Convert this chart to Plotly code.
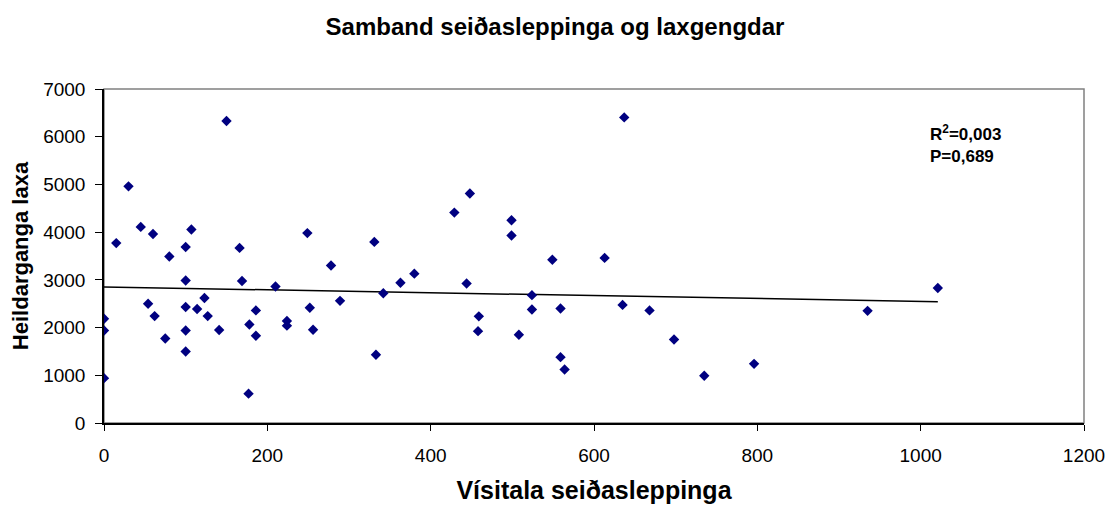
import numpy as np
import plotly.graph_objects as go

# Data
releases = [0, 0, 0, 15, 30, 45, 54, 60, 62, 75, 80, 100, 100, 100, 100, 100,
            107, 114, 123, 127, 141, 150, 166, 169, 177, 178, 186, 186, 210, 224,
            224, 249, 252, 256, 278, 289, 331, 333, 342, 363, 380, 429, 444, 448,
            458, 459, 499, 499, 508, 524, 524, 549, 559, 559, 564, 613, 635, 637,
            668, 698, 735, 796, 935, 1021]
salmon = [2185, 1940, 940, 3770, 4960, 4110, 2500, 3960, 2240, 1770, 3490, 3690,
          2985, 2430, 1940, 1500, 4055, 2390, 2620, 2240, 1950, 6330, 3670, 2975,
          615, 2065, 2360, 1830, 2860, 2140, 2040, 3980, 2415, 1955, 3300, 2560,
          3795, 1430, 2720, 2940, 3130, 4410, 2925, 4810, 1925, 2235, 4250, 3930,
          1850, 2680, 2380, 3420, 2400, 1380, 1120, 3460, 2475, 6405, 2360, 1750,
          990, 1240, 2350, 2830]

title_text = "Samband seiðasleppinga og laxgengdar"
x_title = "Vísitala seiðasleppinga"
y_title = "Heildarganga laxa"
stats_text = "R<sup>2</sup>=0,003<br>P=0,689"

x_ticks = [0, 200, 400, 600, 800, 1000, 1200]
y_ticks = [0, 1000, 2000, 3000, 4000, 5000, 6000, 7000]

# Linear trend fitted to the data
xa = np.array(releases, dtype=float)
ya = np.array(salmon, dtype=float)
slope, intercept = np.polyfit(xa, ya, 1)
trend_x = [xa.min(), xa.max()]
trend_y = [intercept + slope * v for v in trend_x]

FONT = "Liberation Sans, Arial, sans-serif"
W, H = 1106, 501

fig = go.Figure()
fig.add_trace(go.Scatter(
    x=trend_x, y=trend_y, mode="lines",
    line=dict(color="black", width=1.5), hoverinfo="skip", showlegend=False))
fig.add_trace(go.Scatter(
    x=releases, y=salmon, mode="markers",
    marker=dict(symbol="diamond", size=8, color="#000080",
                line=dict(width=0)),
    showlegend=False))

fig.update_layout(
    width=W, height=H,
    margin=dict(l=96, r=30, t=81, b=86, autoexpand=False),
    paper_bgcolor="white", plot_bgcolor="white",
    font=dict(family=FONT, color="black", size=19),
    title=dict(text="<b>" + title_text + "</b>", x=(555 - 8) / W, xanchor="center",
               y=1 - 19 / H, yanchor="middle",
               font=dict(size=24, family=FONT)),
    shapes=[dict(type="rect", xref="paper", yref="paper", x0=0, y0=0, x1=1, y1=1,
                 line=dict(color="#808080", width=1.5), layer="below")],
    annotations=[dict(text="<b>" + stats_text + "</b>", xref="paper", yref="paper",
                      x=(928 - 104) / 980, y=(423 - 120) / 334,
                      xanchor="left", yanchor="top", align="left",
                      showarrow=False, font=dict(size=17, family=FONT))],
)

fig.update_xaxes(
    automargin=False,
    range=[0, 1200], tickvals=x_ticks, ticktext=[str(v) for v in x_ticks],
    showgrid=False, zeroline=False,
    showline=True, linecolor="black", linewidth=1.5,
    ticks="outside", ticklen=6, tickcolor="black", tickwidth=1,
    ticklabelstandoff=8, tickfont=dict(size=19),
    title=dict(text="<b>" + x_title + "</b>", font=dict(size=25), standoff=17),
)
fig.update_yaxes(
    automargin=False,
    range=[0, 7000], tickvals=y_ticks, ticktext=[str(v) for v in y_ticks],
    showgrid=False, zeroline=False,
    showline=True, linecolor="black", linewidth=1.5,
    ticks="outside", ticklen=7, tickcolor="black", tickwidth=1,
    ticklabelstandoff=6, tickfont=dict(size=19),
    title=dict(text="<b>" + y_title + "</b>", font=dict(size=22), standoff=12),
)

fig.write_html("out.html")
